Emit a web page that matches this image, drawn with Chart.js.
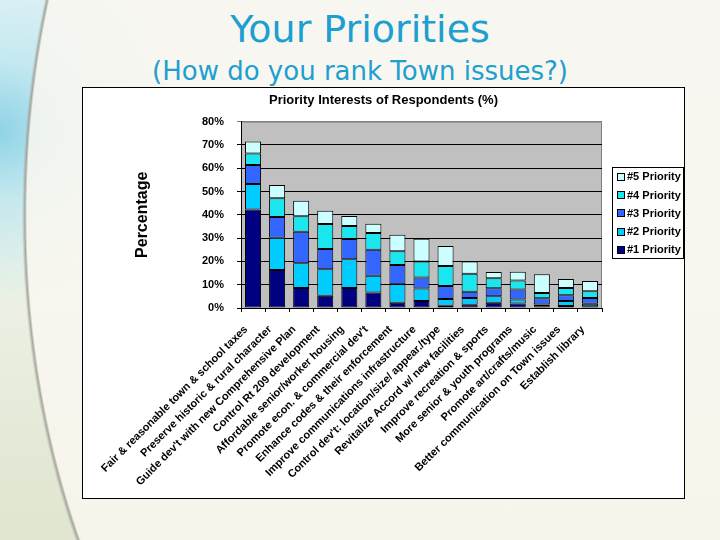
<!DOCTYPE html>
<html>
<head>
<meta charset="utf-8">
<script src="https://cdn.jsdelivr.net/npm/chart.js@4.4.1/dist/chart.umd.min.js"></script>
<style>
    body {
        margin: 0;
        width: 720px;
        height: 540px;
        overflow: hidden;
        position: relative;
        background:
            radial-gradient(ellipse 410px 660px at 432px 215px, rgba(250, 247, 240, 0.85) 0, rgba(250, 247, 240, 0.85) 98.8%, rgba(160, 160, 150, 0.9) 99.3%, rgba(0, 0, 0, 0) 100%),
            radial-gradient(circle at 0px 130px, #8fd3e6 0, rgba(180, 228, 240, 0.7) 70px, rgba(0, 0, 0, 0) 170px),
            linear-gradient(180deg, #e6f4f6 0%, #eef3e8 45%, #dfe5cf 100%);
        font-family: "Liberation Sans", Arial, sans-serif;
    }
    .titulo {
        position: absolute;
        left: 0;
        width: 720px;
        text-align: center;
        color: #1d9fcf;
        font-family: "DejaVu Sans", sans-serif;
    }
    #t1 { top: 7px; font-size: 38px; }
    #t2 { top: 56px; font-size: 26px; }
    #caja {
        position: absolute;
        left: 82px;
        top: 87px;
        width: 601px;
        height: 410px;
        border: 1px solid #000;
        background: #fff;
    }
</style>
</head>
<body>
<div class="titulo" id="t1">Your Priorities</div>
<div class="titulo" id="t2">(How do you rank Town issues?)</div>
<div id="caja"><canvas id="myChart" width="601" height="410"></canvas></div>

<script>
const labels = [
    'Fair & reasonable town & school taxes',
    'Preserve historic & rural character',
    "Guide dev't with new Comprehensive Plan",
    'Control Rt 209 development',
    'Affordable senior/worker housing',
    "Promote econ. & commercial dev't",
    'Enhance codes & their enforcement',
    'Improve communications infrastructure',
    "Control dev't: location/size/ appear./type",
    'Revitalize Accord w/ new facilities',
    'Improve recreation & sports',
    'More senior & youth programs',
    'Promote art/crafts/music',
    'Better communication on Town issues',
    'Establish library'
];

const yTicks = [0, 10, 20, 30, 40, 50, 60, 70, 80];

const seriesNames = ['#1 Priority', '#2 Priority', '#3 Priority', '#4 Priority', '#5 Priority'];

// percentages
const prioridad1 = [42.3, 16.3, 8.6, 5.3, 8.6, 6.6, 2.3, 3.0, 1.0, 1.4, 2.3, 1.9, 0.7, 0.9, 0.7];
const prioridad2 = [10.9, 13.8, 10.6, 11.3, 12.3, 7.2, 7.9, 5.4, 2.9, 2.9, 2.7, 1.7, 0.8, 2.1, 1.1];
const prioridad3 = [8.2, 9.0, 13.5, 8.7, 8.7, 11.2, 8.3, 4.7, 5.5, 2.7, 3.5, 4.3, 2.7, 2.5, 2.5];
const prioridad4 = [4.9, 8.0, 6.7, 10.8, 5.6, 7.2, 5.9, 6.9, 8.6, 7.7, 4.3, 3.9, 2.2, 3.1, 2.9];
const prioridad5 = [5.2, 5.7, 6.6, 5.6, 4.3, 4.0, 7.0, 9.7, 8.6, 5.3, 2.6, 3.8, 8.1, 3.9, 4.4];

const colores = ['#000080', '#00ccff', '#3366ff', '#1ae6f0', '#ccffff'];

const valores = [prioridad1, prioridad2, prioridad3, prioridad4, prioridad5];
const datasets = [];
for (let k = 0; k < valores.length; k++) {
    datasets.push({
        label: seriesNames[k],
        data: valores[k],
        backgroundColor: colores[k],
        borderColor: '#000',
        borderWidth: 1,
        borderSkipped: false,
        barPercentage: 0.667,
        categoryPercentage: 1
    });
}

// grey plot area
const fondoGris = {
    id: 'fondoGris',
    beforeDraw(chart) {
        const a = chart.chartArea;
        const ctx = chart.ctx;
        ctx.save();
        ctx.fillStyle = '#c0c0c0';
        ctx.fillRect(a.left, a.top, a.right - a.left, a.bottom - a.top);
        ctx.strokeStyle = '#808080';
        ctx.lineWidth = 1;
        ctx.beginPath();
        ctx.moveTo(a.left, a.top + 0.5);
        ctx.lineTo(Math.round(a.right) - 0.5, a.top + 0.5);
        ctx.lineTo(Math.round(a.right) - 0.5, a.bottom);
        ctx.stroke();
        ctx.restore();
    }
};

// legend with a frame, #5 on top
const leyenda = {
    id: 'leyenda',
    afterDraw(chart) {
        const ctx = chart.ctx;
        const ds = chart.data.datasets;
        ctx.save();
        ctx.fillStyle = '#fff';
        ctx.fillRect(529.5, 79.5, 71, 91);
        ctx.strokeStyle = '#000';
        ctx.lineWidth = 1;
        ctx.strokeRect(529.5, 79.5, 71, 91);
        ctx.font = 'bold 11px "Liberation Sans", Arial, sans-serif';
        ctx.textBaseline = 'middle';
        for (let i = 0; i < ds.length; i++) {
            const d = ds[ds.length - 1 - i];
            const y = 88.7 + i * 18.3;
            ctx.fillStyle = d.backgroundColor;
            ctx.fillRect(534.5, Math.round(y) - 3.5, 7, 7);
            ctx.strokeRect(534.5, Math.round(y) - 3.5, 7, 7);
            ctx.fillStyle = '#000';
            ctx.fillText(d.label, 544, y + 0.5);
        }
        ctx.restore();
    }
};

const config = {
    type: 'bar',
    data: { labels: labels, datasets: datasets },
    options: {
        responsive: false,
        animation: false,
        layout: { padding: 0 },
        plugins: {
            legend: { display: false },
            tooltip: { enabled: false },
            title: {
                display: true,
                text: 'Priority Interests of Respondents (%)',
                color: '#000',
                font: { family: '"Liberation Sans", Arial, sans-serif', size: 13, weight: 'bold' },
                padding: { top: 5, bottom: 13 }
            }
        },
        scales: {
            x: {
                stacked: true,
                grid: { display: true, drawOnChartArea: false, drawTicks: true, tickLength: 4, color: '#000', offset: true },
                border: { display: true, color: '#000' },
                ticks: {
                    autoSkip: false,
                    minRotation: 45,
                    maxRotation: 45,
                    padding: 11,
                    labelOffset: -7,
                    color: '#000',
                    font: { family: '"Liberation Sans", Arial, sans-serif', size: 11, weight: 'bold' }
                },
                afterFit: (s) => { s.height = 190; }
            },
            y: {
                stacked: true,
                min: yTicks[0],
                max: yTicks[yTicks.length - 1],
                afterBuildTicks: (s) => { s.ticks = yTicks.map(v => ({ value: v })); },
                grid: {
                    color: (c) => (c.tick && c.tick.value === 80 ? '#808080' : '#000'),
                    tickLength: 4
                },
                border: { display: true, color: '#000' },
                ticks: {
                    padding: 13,
                    color: '#000',
                    font: { family: '"Liberation Sans", Arial, sans-serif', size: 11, weight: 'bold' },
                    callback: (v) => v + '%'
                },
                title: {
                    display: true,
                    text: 'Percentage',
                    color: '#000',
                    font: { family: '"Liberation Sans", Arial, sans-serif', size: 16, weight: 'bold' },
                    padding: { top: 50, bottom: 0 }
                },
                afterFit: (s) => { s.width = 158; }
            },
            // empty axis that only keeps room for the legend
            espacio: {
                position: 'right',
                display: true,
                grid: { display: false },
                border: { display: false },
                ticks: { display: false },
                afterFit: (s) => { s.width = 82; }
            }
        }
    },
    plugins: [fondoGris, leyenda]
};

const myChart = new Chart(document.querySelector('#myChart'), config);
</script>
</body>
</html>
